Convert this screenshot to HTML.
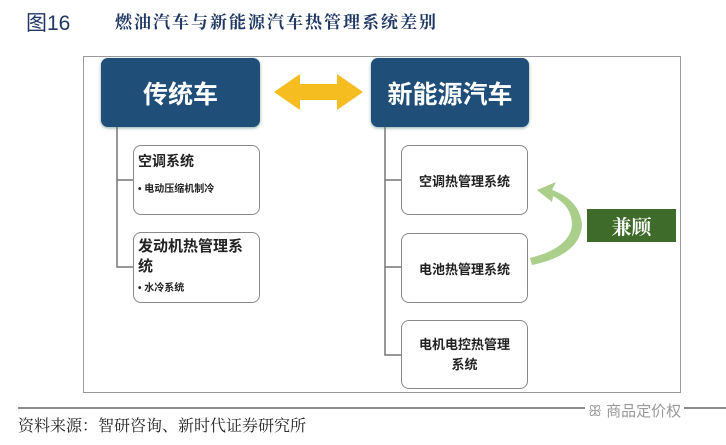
<!DOCTYPE html>
<html><head><meta charset="utf-8"><style>
body{margin:0;width:726px;height:445px;background:#fff;position:relative;overflow:hidden;font-family:"Liberation Sans","Noto Sans CJK SC",sans-serif}
.a{position:absolute}
.hdr{background:#1f4e79;border-radius:7px;color:#fff;font-weight:bold;font-size:25px;display:flex;align-items:center;justify-content:center;box-shadow:0 1px 3px #8aa}
.box{border:1.5px solid #888;border-radius:8px;background:#fff;box-sizing:border-box;font-weight:bold;color:#222}
</style></head><body>
<div class="a" style="left:26px;top:7px;font-size:21px;color:#1f3864">图16</div>
<div class="a" style="left:115px;top:8px;font-size:17px;color:#1f3864;font-weight:bold;font-family:'Noto Serif CJK SC',serif;letter-spacing:2px">燃油汽车与新能源汽车热管理系统差别</div>
<div class="a" style="left:83px;top:56px;width:598px;height:337px;border:1px solid #999;box-sizing:border-box"></div>
<div class="a hdr" style="left:101px;top:58px;width:159px;height:69px">传统车</div>
<div class="a hdr" style="left:371px;top:58px;width:158px;height:69px">新能源汽车</div>
<svg class="a" style="left:0;top:0" width="726" height="445">
<polygon points="274,92 300,74 300,84 337,84 337,74 363,92 337,110 337,100 300,100 300,110" fill="#f5bd1f"/>
<g stroke="#777" stroke-width="1.5" fill="none">
<path d="M117,127 V267 H133 M117,180 H133"/>
<path d="M385,127 V355 H401 M385,180 H401 M385,267 H401"/>
</g>
<path d="M532,265 Q580,255 582,225 Q580,200 552,190 L556,182 L537,190 L552,202 L553,196 Q572,206 572,225 Q570,248 530,258 Z" fill="#a9cf8a"/>
<line x1="18" y1="408" x2="726" y2="408" stroke="#666" stroke-width="1.5"/>
</svg>
<div class="a box" style="left:133px;top:145px;width:127px;height:70px;padding:5px 4px;font-size:14px">空调系统<div style="font-size:10px;margin-top:9px">• 电动压缩机制冷</div></div>
<div class="a box" style="left:133px;top:232px;width:127px;height:71px;padding:4px 4px;font-size:15px;line-height:20px">发动机热管理系统<div style="font-size:10px;margin-top:2px">• 水冷系统</div></div>
<div class="a box" style="left:401px;top:145px;width:127px;height:70px;font-size:13px;display:flex;align-items:center;justify-content:center">空调热管理系统</div>
<div class="a box" style="left:401px;top:233px;width:127px;height:70px;font-size:13px;display:flex;align-items:center;justify-content:center">电池热管理系统</div>
<div class="a box" style="left:401px;top:320px;width:127px;height:69px;font-size:13px;display:flex;align-items:center;justify-content:center;text-align:center;line-height:20px">电机电控热管理<br>系统</div>
<div class="a" style="left:587px;top:209px;width:89px;height:33px;background:#3e6b2a;color:#fff;font-size:20px;font-weight:bold;display:flex;align-items:center;justify-content:center;font-family:'Noto Serif CJK SC',serif">兼顾</div>
<div class="a" style="left:18px;top:413px;font-size:16px;color:#222;font-family:'Noto Serif CJK SC',serif">资料来源：智研咨询、新时代证券研究所</div>
<div class="a" style="left:585px;top:400px;font-size:15px;color:#999;background:#fff;padding:0 3px">ꕥ 商品定价权</div>
</body></html>
